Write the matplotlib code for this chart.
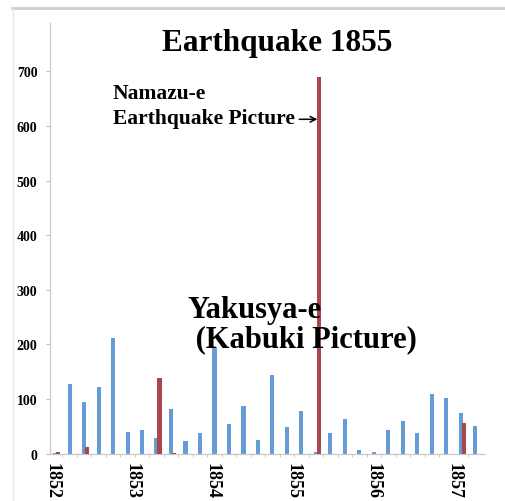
"""
Earthquake 1855 - prints per period (Namazu-e vs Yakusya-e)
"""

import numpy as np
import matplotlib.pyplot as plt
from matplotlib.lines import Line2D

# Yakusya-e (kabuki pictures), blue bars, one per period
yakusya = [1, 128, 95, 122, 212, 40, 44, 29, 82, 24,
           38, 194, 55, 88, 26, 144, 49, 79, 3, 38,
           64, 7, 4, 44, 60, 38, 110, 102, 75, 51]
# Namazu-e (earthquake pictures), red bars
namazu = [3, 0, 13, 0, 0, 0, 0, 139, 2, 0,
          0, 0, 0, 0, 0, 0, 0, 0, 690, 0,
          0, 0, 0, 0, 0, 0, 0, 0, 57, 0]
year_labels = ['1852', '1853', '1854', '1855', '1856', '1857']
year_pos = [-0.2, 5.3, 10.85, 16.4, 21.95, 27.5]
y_ticks = [0, 100, 200, 300, 400, 500, 600, 700]

SERIF = 'Liberation Serif'
BLUE = '#659bd6'
RED = '#a8484d'

fig = plt.figure(figsize=(5.05, 5.02), dpi=100)
ax = fig.add_axes([0.099, 0.094, 0.861, 0.858])

x = np.arange(len(yakusya))
ax.bar(x, yakusya, width=0.28, color=BLUE, zorder=2)
ax.bar(x + 0.21, namazu, width=0.30, color=RED, zorder=3)

ax.set_xlim(-0.35, 29.65)
ax.set_ylim(0, 788)

ax.set_yticks(y_ticks)
ax.set_yticklabels([str(v) for v in y_ticks], fontfamily=SERIF,
                   fontweight='bold', fontsize=10)
ax.tick_params(axis='y', length=3, color='#bfbfbf', pad=6)

ax.set_xticks(year_pos)
ax.set_xticklabels(year_labels, rotation=-90, fontfamily=SERIF,
                   fontweight='bold', fontsize=13, va='top', ha='center')
ax.tick_params(axis='x', which='major', length=0, pad=6)
ax.set_xticks(x[:-1] + 0.5, minor=True)
ax.tick_params(axis='x', which='minor', length=2.5, color='#bfbfbf')

for side in ['top', 'right']:
    ax.spines[side].set_visible(False)
for side in ['left', 'bottom']:
    ax.spines[side].set_color('#c8c8c8')
    ax.spines[side].set_linewidth(0.9)

# title and annotations
fig.text(0.549, 0.913, 'Earthquake 1855', fontfamily=SERIF,
         fontweight='bold', fontsize=22.5, ha='center', va='center')
ax.text(4.0, 637, 'Namazu-e\nEarthquake Picture', fontfamily=SERIF,
        fontweight='bold', fontsize=15.5, ha='left', va='center',
        linespacing=1.3, zorder=4)
ax.annotate('', xy=(18.1, 612), xytext=(16.85, 612),
            arrowprops=dict(arrowstyle='->', color='black', lw=1.1,
                            shrinkA=0, shrinkB=0), zorder=4)
ax.text(9.15, 238, 'Yakusya-e\n (Kabuki Picture)', fontfamily=SERIF,
        fontweight='bold', fontsize=22, ha='left', va='center',
        linespacing=1.0, zorder=4)

# page frame lines from the screenshot
fig.add_artist(Line2D([0.024, 1.0], [0.982, 0.982], color='#cfcfcf',
                      linewidth=2, transform=fig.transFigure))
fig.add_artist(Line2D([0.025, 0.025], [0.0, 0.982], color='#e6e6e6',
                      linewidth=1, transform=fig.transFigure))

fig.savefig('out.png', dpi=100)
